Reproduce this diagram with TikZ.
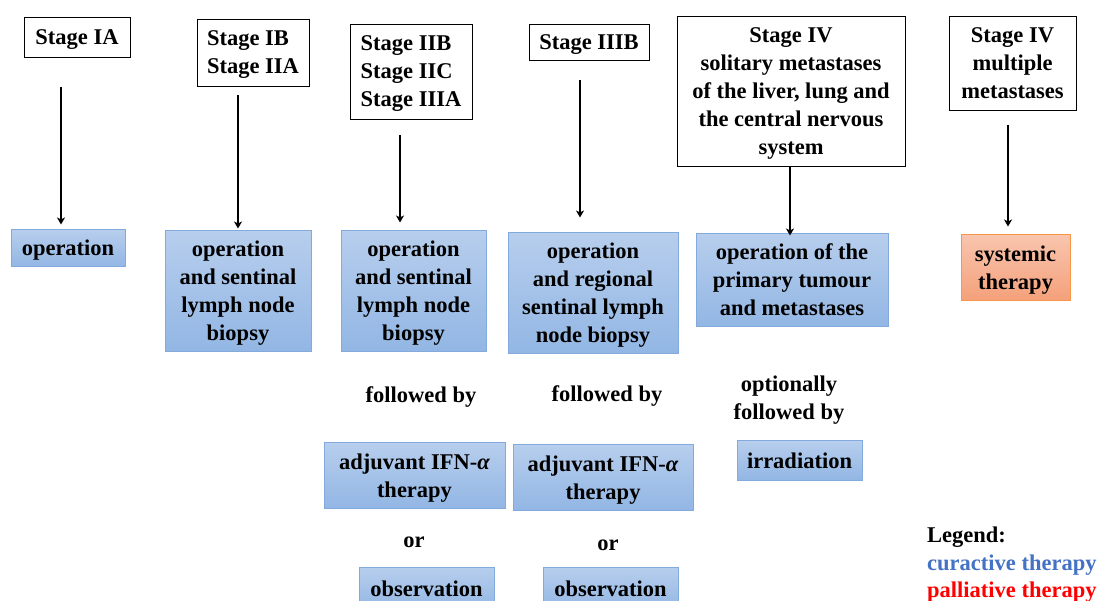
\documentclass[tikz,border=0pt]{standalone}
\usepackage{fontspec}
\setmainfont{Liberation Serif}
\usetikzlibrary{arrows.meta}
\definecolor{bluetop}{RGB}{183,206,237}
\definecolor{bluebot}{RGB}{146,182,228}
\definecolor{blueline}{RGB}{130,170,220}
\definecolor{orgtop}{RGB}{249,197,174}
\definecolor{orgbot}{RGB}{244,160,122}
\definecolor{orgline}{RGB}{247,150,70}
\definecolor{legblue}{RGB}{68,114,196}
\newcommand\tstrut{\rule{0pt}{22pt}}
\newcommand\bstrut{\rule[-7pt]{0pt}{7pt}}
\begin{document}
\begin{tikzpicture}[x=1pt,y=-1pt,
  every node/.style={font=\fontsize{22.5}{28}\selectfont\bfseries, inner sep=0pt},
  stagebox/.style={draw=black, line width=0.9pt, fill=white, align=center},
  stageleft/.style={stagebox, align=left},
  curbox/.style={draw=blueline, line width=1pt, top color=bluetop, bottom color=bluebot, align=center},
  palbox/.style={draw=orgline, line width=1pt, top color=orgtop, bottom color=orgbot, align=center},
  plain/.style={align=center},
  arr/.style={draw=black, line width=1.4pt, -{Stealth[length=7pt,width=8pt,inset=2pt]}}
]
\useasboundingbox (0,0) rectangle (1106,601);
% stage boxes
\node[stagebox, minimum width=106pt, minimum height=40pt] (s1) at (77,37) {\tstrut Stage IA\bstrut};
\node[stageleft, minimum width=112pt, minimum height=67pt] (s2) at (253,52.5) {\tstrut Stage IB\\Stage IIA\bstrut};
\node[stageleft, minimum width=122pt, minimum height=95pt] (s3) at (411,71.5) {\tstrut Stage IIB\\Stage IIC\\Stage IIIA\bstrut};
\node[stagebox, minimum width=120pt, minimum height=36pt] (s4) at (589,42) {\tstrut Stage IIIB\bstrut};
\node[stagebox, minimum width=228pt, minimum height=150pt] (s5) at (791,91) {\tstrut Stage IV\\solitary metastases\\of the liver, lung and\\the central nervous\\system\bstrut};
\node[stagebox, minimum width=127pt, minimum height=94pt] (s6) at (1012.5,63) {\tstrut Stage IV\\multiple\\metastases\bstrut};
% therapy boxes
\node[curbox, minimum width=114pt, minimum height=37pt] (t1) at (68,248.5) {\tstrut operation\bstrut};
\node[curbox, minimum width=146pt, minimum height=121pt] (t2) at (238,291.5) {\tstrut operation\\and sentinal\\lymph node\\biopsy\bstrut};
\node[curbox, minimum width=145pt, minimum height=121pt] (t3) at (413.5,291.5) {\tstrut operation\\and sentinal\\lymph node\\biopsy\bstrut};
\node[curbox, minimum width=170pt, minimum height=121pt] (t4) at (593,293.5) {\tstrut operation\\and regional\\sentinal lymph\\node biopsy\bstrut};
\node[curbox, minimum width=192pt, minimum height=93pt] (t5) at (792,280.5) {\tstrut operation of the\\primary tumour\\and metastases\bstrut};
\node[palbox, minimum width=109pt, minimum height=66pt] (t6) at (1015.5,268) {\tstrut systemic\\therapy\bstrut};
% follow-ups
\node[plain] (f3) at (421,395) {\tstrut followed by\bstrut};
\node[plain] (f4) at (607,394) {\tstrut followed by\bstrut};
\node[plain] (f5) at (789,398.5) {\tstrut optionally\\followed by\bstrut};
\node[curbox, minimum width=181pt, minimum height=65pt] (j3) at (414.5,475.5) {\tstrut adjuvant IFN-{\itshape α}\\therapy\bstrut};
\node[curbox, minimum width=180pt, minimum height=65pt] (j4) at (603,477.5) {\tstrut adjuvant IFN-{\itshape α}\\therapy\bstrut};
\node[curbox, minimum width=125pt, minimum height=39pt] (r5) at (799.5,460.5) {\tstrut irradiation\bstrut};
\node[plain] (o3) at (414,540) {\tstrut or\bstrut};
\node[plain] (o4) at (608,543) {\tstrut or\bstrut};
\node[curbox, minimum width=135pt, minimum height=44pt] (b3) at (426.5,589) {\tstrut observation\bstrut};
\node[curbox, minimum width=135pt, minimum height=44pt] (b4) at (610.5,589) {\tstrut observation\bstrut};
% legend
\node[anchor=west, align=left] (lg1) at (927,535) {\tstrut Legend:\bstrut};
\node[anchor=west, align=left, text=legblue] (lg2) at (927,563) {\tstrut curactive therapy\bstrut};
\node[anchor=west, align=left, text=red] (lg3) at (927,590) {\tstrut palliative therapy\bstrut};
% arrows
\coordinate (a1) at (61,87);
\coordinate (a2) at (238,95);
\coordinate (a3) at (400,135);
\coordinate (a4) at (580,80);
\coordinate (a5) at (790,166);
\coordinate (a6) at (1008,125);
\draw[arr] (a1) -- ([yshift=5pt]a1 |- t1.north);
\draw[arr] (a2) -- ([yshift=2pt]a2 |- t2.north);
\draw[arr] (a3) -- ([yshift=8pt]a3 |- t3.north);
\draw[arr] (a4) -- ([yshift=15pt]a4 |- t4.north);
\draw[arr] (a5) -- ([yshift=-2pt]a5 |- t5.north);
\draw[arr] (a6) -- ([yshift=8pt]a6 |- t6.north);
\end{tikzpicture}
\end{document}
